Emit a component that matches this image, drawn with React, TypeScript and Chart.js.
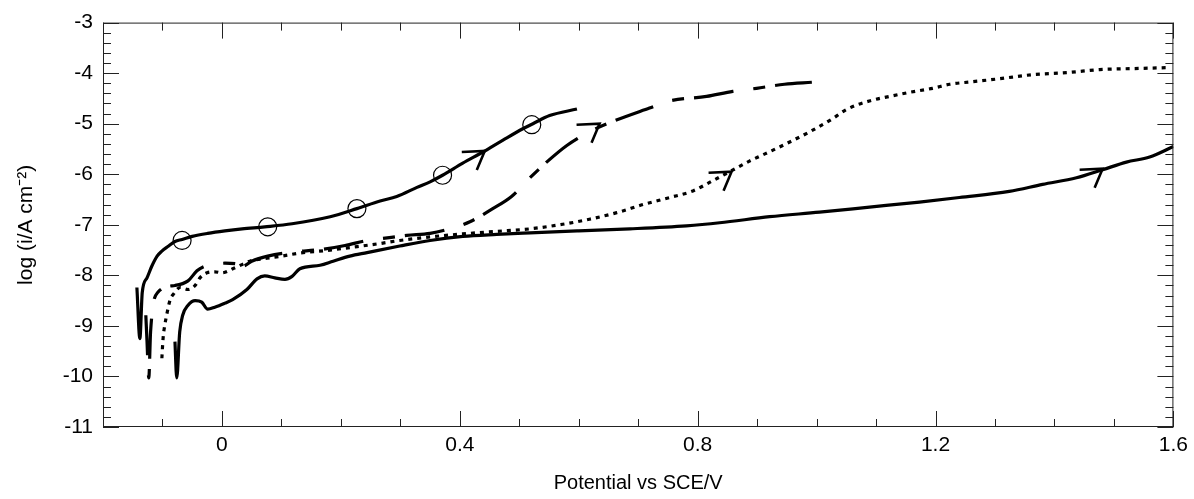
import React, { useEffect, useRef } from "react";
import { Chart, registerables } from "chart.js";

Chart.register(...registerables);

// Axis tick labels
const X_LABEL_TICKS = [0, 0.4, 0.8, 1.2, 1.6];
const Y_LABEL_TICKS = [-3, -4, -5, -6, -7, -8, -9, -10, -11];

// Curve A (solid, with circles)
const A_POT = [-0.143, -0.138, -0.134, -0.126, -0.118, -0.109, -0.101, -0.091, -0.079, -0.067, -0.05, -0.024, 0.005, 0.034, 0.072, 0.118, 0.182, 0.227, 0.266, 0.294, 0.328, 0.35, 0.371, 0.405, 0.439, 0.472, 0.506, 0.523, 0.551, 0.597];
const A_LOGI = [-8.24, -9.25, -8.34, -8.05, -7.82, -7.62, -7.52, -7.43, -7.33, -7.29, -7.23, -7.17, -7.12, -7.08, -7.04, -6.98, -6.84, -6.68, -6.53, -6.44, -6.26, -6.15, -6.02, -5.78, -5.56, -5.33, -5.1, -5.0, -4.84, -4.71];

// Curve B (dashed)
const B_POT = [-0.128, -0.126, -0.123, -0.12, -0.108, -0.079, -0.057, -0.042, -0.029, -0.012, 0.005, 0.027, 0.035, 0.05, 0.077, 0.118, 0.165, 0.207, 0.244, 0.271, 0.311, 0.35, 0.383, 0.417, 0.454, 0.487, 0.518, 0.546, 0.58, 0.618, 0.652, 0.719, 0.753, 0.815, 0.859, 0.899, 0.946, 0.992];
const B_LOGI = [-8.79, -9.3, -10.03, -9.12, -8.34, -8.2, -8.11, -7.91, -7.82, -7.78, -7.76, -7.78, -7.82, -7.72, -7.62, -7.54, -7.49, -7.41, -7.31, -7.27, -7.21, -7.17, -7.08, -6.94, -6.69, -6.44, -6.07, -5.76, -5.43, -5.16, -4.98, -4.69, -4.55, -4.46, -4.36, -4.3, -4.22, -4.18];

// Curve C (dotted)
const C_POT = [-0.101, -0.099, -0.096, -0.092, -0.087, -0.082, -0.07, -0.057, -0.045, -0.037, -0.025, -0.012, 0.0, 0.02, 0.047, 0.076, 0.1, 0.131, 0.182, 0.215, 0.266, 0.299, 0.35, 0.405, 0.462, 0.518, 0.573, 0.618, 0.664, 0.708, 0.753, 0.792, 0.825, 0.857, 0.887, 0.909, 0.95, 0.99, 1.027, 1.05, 1.089, 1.123, 1.156, 1.195, 1.224, 1.262, 1.308, 1.363, 1.42, 1.476, 1.531, 1.593];
const C_LOGI = [-9.64, -9.25, -8.98, -8.73, -8.48, -8.38, -8.24, -8.28, -8.2, -8.05, -7.95, -7.93, -7.95, -7.86, -7.72, -7.66, -7.62, -7.56, -7.5, -7.45, -7.37, -7.31, -7.24, -7.18, -7.13, -7.08, -6.99, -6.89, -6.76, -6.6, -6.46, -6.33, -6.13, -5.93, -5.74, -5.62, -5.39, -5.15, -4.9, -4.72, -4.55, -4.46, -4.38, -4.3, -4.22, -4.17, -4.11, -4.03, -3.99, -3.93, -3.91, -3.89];

// Curve D (solid, lowest)
const D_POT = [-0.079, -0.076, -0.071, -0.066, -0.057, -0.045, -0.034, -0.024, -0.012, 0.005, 0.018, 0.042, 0.059, 0.072, 0.089, 0.106, 0.118, 0.131, 0.165, 0.187, 0.215, 0.244, 0.299, 0.35, 0.405, 0.462, 0.518, 0.6, 0.686, 0.781, 0.837, 0.921, 1.005, 1.089, 1.173, 1.24, 1.324, 1.38, 1.437, 1.481, 1.521, 1.56, 1.6];
const D_LOGI = [-9.31, -10.03, -9.12, -8.79, -8.59, -8.5, -8.53, -8.67, -8.63, -8.55, -8.48, -8.28, -8.07, -8.01, -8.05, -8.08, -8.02, -7.87, -7.8, -7.72, -7.62, -7.55, -7.42, -7.31, -7.23, -7.19, -7.16, -7.12, -7.08, -7.02, -6.96, -6.84, -6.75, -6.65, -6.55, -6.46, -6.34, -6.2, -6.07, -5.91, -5.76, -5.66, -5.45];

// Circle markers on curve A
const CIRCLE_POT = [-0.067, 0.077, 0.227, 0.371, 0.521];
const CIRCLE_LOGI = [-7.31, -7.04, -6.68, -6.02, -5.02];

// Direction arrows (tip positions)
const ARROW_POT = [0.442, 0.635, 0.857, 1.481];
const ARROW_LOGI = [-5.54, -5.0, -5.95, -5.89];

const FONT = "'Liberation Sans', Arial, Helvetica, sans-serif";

const toPts = (xs: number[], ys: number[]) => xs.map((x, i) => ({ x, y: ys[i] }));

const frameTicksPlugin = {
  id: "frameTicks",
  afterDatasetsDraw(chart: any) {
    const { ctx, chartArea, scales } = chart;
    const { left, right, top, bottom } = chartArea;
    const x = scales.x;
    const y = scales.y;
    ctx.save();
    ctx.strokeStyle = "#222";
    ctx.lineWidth = 1;
    ctx.strokeRect(left + 0.5, top + 0.5, right - left - 1, bottom - top - 1);
    const seg = (x1: number, y1: number, x2: number, y2: number) => {
      ctx.beginPath();
      ctx.moveTo(x1, y1);
      ctx.lineTo(x2, y2);
      ctx.stroke();
    };
    for (let i = Math.round(x.min * 10); i <= Math.round(x.max * 10); i++) {
      const px = Math.round(x.getPixelForValue(i / 10)) + 0.5;
      const len = i % 4 === 0 ? 16 : 8;
      seg(px, bottom, px, bottom - len);
      seg(px, top, px, top + len);
    }
    for (let i = Math.round(y.min * 5); i <= Math.round(y.max * 5); i++) {
      const py = Math.round(y.getPixelForValue(i / 5)) + 0.5;
      const len = i % 5 === 0 ? 16 : 8;
      seg(left, py, left + len, py);
      seg(right, py, right - len, py);
    }
    ctx.strokeStyle = "#000";
    ctx.lineWidth = 2.6;
    ctx.lineJoin = "miter";
    ARROW_POT.forEach((p, i) => {
      const tx = x.getPixelForValue(p);
      const ty = y.getPixelForValue(ARROW_LOGI[i]);
      ctx.beginPath();
      ctx.moveTo(tx - 23, ty + 1);
      ctx.lineTo(tx, ty);
      ctx.lineTo(tx - 8, ty + 19);
      ctx.stroke();
    });
    ctx.restore();
  },
};

export default function App() {
  const ref = useRef<HTMLCanvasElement | null>(null);

  useEffect(() => {
    document.body.style.margin = "0";
    const canvas = ref.current;
    if (!canvas) return;
    const lineBase = {
      borderColor: "#000",
      backgroundColor: "#000",
      borderWidth: 3.2,
      pointRadius: 0,
      fill: false,
      cubicInterpolationMode: "monotone" as const,
      borderCapStyle: "butt" as const,
    };
    const chart = new Chart(canvas, {
      type: "line",
      data: {
        datasets: [
          { ...lineBase, label: "A", data: toPts(A_POT, A_LOGI) },
          { ...lineBase, label: "B", data: toPts(B_POT, B_LOGI), borderDash: [40, 20, 12, 10] },
          { ...lineBase, label: "C", data: toPts(C_POT, C_LOGI), borderDash: [4, 5] },
          { ...lineBase, label: "D", data: toPts(D_POT, D_LOGI) },
          {
            label: "circles",
            data: toPts(CIRCLE_POT, CIRCLE_LOGI),
            showLine: false,
            pointRadius: 9,
            pointBorderWidth: 1.2,
            pointBorderColor: "#000",
            pointBackgroundColor: "rgba(0,0,0,0)",
          },
        ],
      },
      options: {
        animation: false,
        responsive: false,
        devicePixelRatio: 1,
        layout: { padding: { left: 0, right: 16, top: 15, bottom: 0 } },
        plugins: { legend: { display: false }, tooltip: { enabled: false } },
        scales: {
          x: {
            type: "linear",
            min: -0.2,
            max: 1.6,
            grid: { display: false, drawTicks: false },
            border: { display: false },
            afterBuildTicks: (s: any) => {
              s.ticks = X_LABEL_TICKS.map((v) => ({ value: v }));
            },
            afterFit: (s: any) => {
              s.height = 72;
            },
            ticks: {
              padding: 6,
              color: "#000",
              font: { family: FONT, size: 21 },
              maxRotation: 0,
              callback: (v: any) => String(v),
            },
            title: {
              display: true,
              text: "Potential vs SCE/V",
              color: "#000",
              font: { family: FONT, size: 20 },
              padding: { top: 0, bottom: 4 },
            },
          },
          y: {
            type: "linear",
            min: -11,
            max: -3,
            grid: { display: false, drawTicks: false },
            border: { display: false },
            afterBuildTicks: (s: any) => {
              s.ticks = Y_LABEL_TICKS.map((v) => ({ value: v }));
            },
            afterFit: (s: any) => {
              s.width = 103;
            },
            ticks: {
              padding: 10,
              color: "#000",
              font: { family: FONT, size: 21 },
              callback: (v: any) => String(v),
            },
            title: {
              display: true,
              text: "log (i/A cm\u207B\u00B2)",
              color: "#000",
              font: { family: FONT, size: 21 },
              padding: { top: 14, bottom: 0 },
            },
          },
        },
      },
      plugins: [frameTicksPlugin],
    });
    return () => chart.destroy();
  }, []);

  return (
    <div style={{ width: 1194, height: 499, overflow: "hidden", background: "#fff" }}>
      <canvas ref={ref} width={1194} height={499} />
    </div>
  );
}
